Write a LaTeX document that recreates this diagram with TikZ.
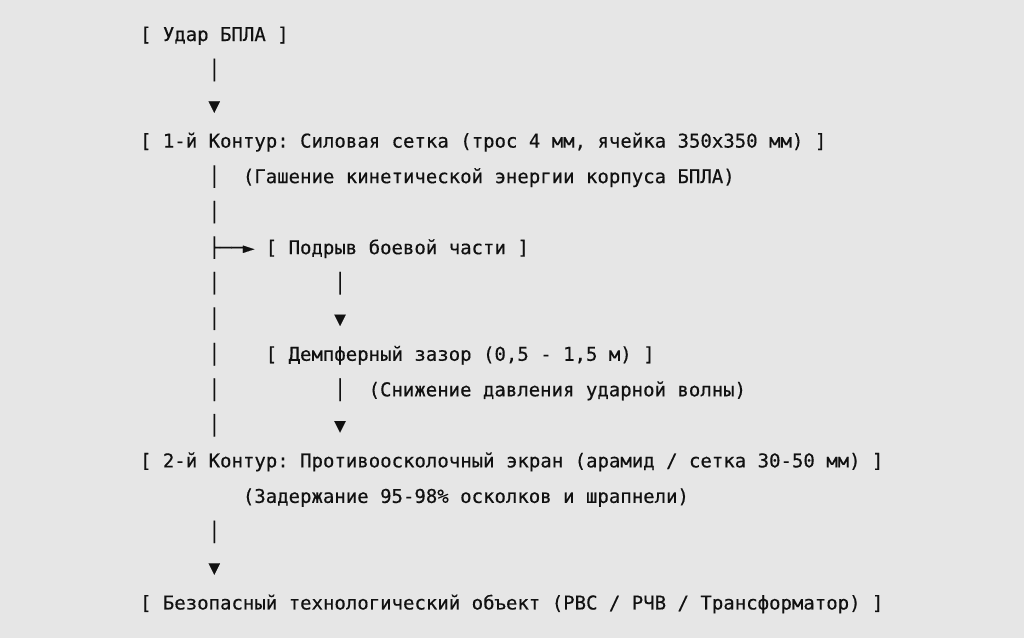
\documentclass[tikz,border=0pt]{standalone}
\usepackage{fontspec}
\newfontfamily\monofont{DejaVu Sans Mono}[FakeBold=0.35]
\definecolor{bg}{HTML}{E6E6E6}
\definecolor{ink}{HTML}{111111}
\begin{document}
\begin{tikzpicture}[x=1pt,y=1pt,
  txt/.style={anchor=base west,inner sep=0pt,outer sep=0pt,text=ink,
    font=\monofont\fontsize{19}{22}\selectfont\frenchspacing}]
\def\cw{11.43}
\def\rh{35.53}
\newcommand\seg[4]{\node[txt] (#1) at ({140+#2*\cw},{-(41+#3*\rh)}) {#4};}
\fill[bg] (0,0) rectangle (1024,-638);
\useasboundingbox (0,0) rectangle (1024,-638);
\seg{r0}{0}{0}{[ Удар БПЛА ]}
\seg{r1a}{6}{1}{│}
\seg{r2a}{6}{2}{▼}
\seg{r3}{0}{3}{[ 1-й Контур: Силовая сетка (трос 4 мм, ячейка 350x350 мм) ]}
\seg{r4a}{6}{4}{│}
\seg{r4b}{9}{4}{(Гашение кинетической энергии корпуса БПЛА)}
\seg{r5a}{6}{5}{│}
\seg{r6a}{6}{6}{├──►}
\seg{r6b}{11}{6}{[ Подрыв боевой части ]}
\seg{r7a}{6}{7}{│}
\seg{r7b}{17}{7}{│}
\seg{r8a}{6}{8}{│}
\seg{r8b}{17}{8}{▼}
\seg{r9a}{6}{9}{│}
\seg{r9b}{11}{9}{[ Демпферный зазор (0,5 - 1,5 м) ]}
\seg{r10a}{6}{10}{│}
\seg{r10b}{17}{10}{│}
\seg{r10c}{20}{10}{(Снижение давления ударной волны)}
\seg{r11a}{6}{11}{│}
\seg{r11b}{17}{11}{▼}
\seg{r12}{0}{12}{[ 2-й Контур: Противоосколочный экран (арамид / сетка 30-50 мм) ]}
\seg{r13}{9}{13}{(Задержание 95-98\% осколков и шрапнели)}
\seg{r14a}{6}{14}{│}
\seg{r15a}{6}{15}{▼}
\seg{r16}{0}{16}{[ Безопасный технологический объект (РВС / РЧВ / Трансформатор) ]}
\end{tikzpicture}
\end{document}
